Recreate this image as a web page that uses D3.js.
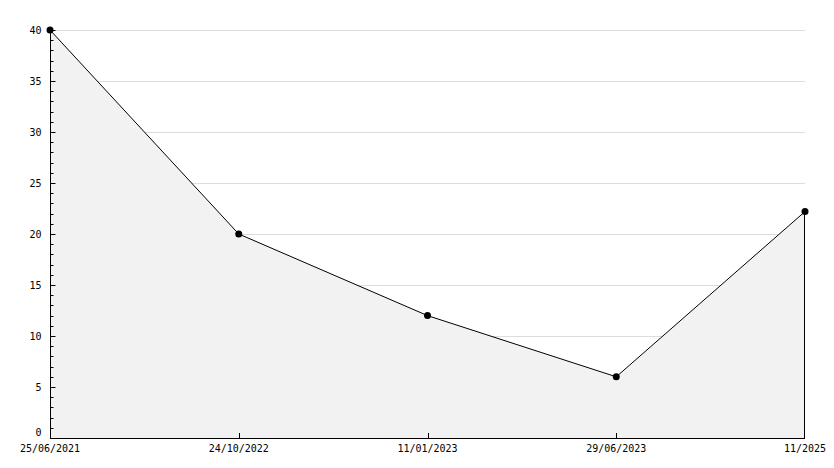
<!doctype html>
<html lang="en">
<head>
<meta charset="utf-8" />
<title>Chart</title>
<script src="https://d3js.org/d3.v7.min.js"></script>
<style>
  body { margin: 0; background: #fff; }
  text { font-family: "DejaVu Sans Mono", monospace; font-size: 10px; fill: #000; }
</style>
</head>
<body>
<div id="chart"></div>
<script>
    // data
    var dates = ["25/06/2021", "24/10/2022", "11/01/2023", "29/06/2023", "11/2025"];
    var values = [40, 20, 12, 6, 22.2];
    var yTicks = [0, 5, 10, 15, 20, 25, 30, 35, 40];

    var width = 834,
        height = 468,
        margin = { top: 30, right: 29, bottom: 30, left: 50 };

    var svg = d3.select("#chart")
        .append("svg")
        .attr("width", width)
        .attr("height", height);

    var innerW = width - margin.left - margin.right,
        innerH = height - margin.top - margin.bottom;

    var g = svg.append("g")
        .attr("transform", `translate(${margin.left},${margin.top})`);

    var x = d3.scalePoint().domain(dates).range([0, innerW]);
    var y = d3.scaleLinear().domain([0, 40]).range([innerH, 0]);

    var points = dates.map((d, i) => ({ date: d, value: values[i] }));

    // grid lines
    g.selectAll(".grid")
        .data(yTicks.filter(t => t > 0))
        .enter().append("line")
        .attr("x1", 0).attr("x2", innerW)
        .attr("y1", d => Math.round(y(d)) + 0.5)
        .attr("y2", d => Math.round(y(d)) + 0.5)
        .attr("stroke", "#dcdcdc");

    // area under the line
    var area = d3.area()
        .x(d => x(d.date))
        .y0(innerH)
        .y1(d => y(d.value));

    g.append("path")
        .datum(points)
        .attr("d", area)
        .attr("fill", "#f2f2f2")
        .attr("stroke", "none");

    // right edge of the area
    g.append("line")
        .attr("x1", x(dates[dates.length - 1]) - 0.5)
        .attr("x2", x(dates[dates.length - 1]) - 0.5)
        .attr("y1", y(values[values.length - 1]))
        .attr("y2", innerH)
        .attr("stroke", "#000");

    // the line
    g.append("path")
        .datum(points)
        .attr("d", d3.line().x(d => x(d.date)).y(d => y(d.value)))
        .attr("fill", "none")
        .attr("stroke", "#000")
        .attr("stroke-width", 1);

    // y axis, minor ticks every 1
    var yAxisG = g.append("g").attr("transform", "translate(0.5,0)");
    yAxisG.append("line")
        .attr("x1", 0).attr("x2", 0)
        .attr("y1", 0).attr("y2", innerH)
        .attr("stroke", "#000");
    yAxisG.selectAll(".minor")
        .data(d3.range(0, 41))
        .enter().append("line")
        .attr("x1", 0)
        .attr("x2", d => d % 5 === 0 ? 5 : 3)
        .attr("y1", d => Math.round(y(d)) + 0.5)
        .attr("y2", d => Math.round(y(d)) + 0.5)
        .attr("stroke", "#000");
    yAxisG.selectAll(".ylab")
        .data(yTicks)
        .enter().append("text")
        .attr("x", -9)
        .attr("y", d => y(d) + (d === 0 ? -6 : 0))
        .attr("dy", "0.35em")
        .attr("text-anchor", "end")
        .text(d => d);

    // x axis
    var xAxisG = g.append("g").attr("transform", `translate(0,${innerH})`);
    xAxisG.append("line")
        .attr("x1", 0).attr("x2", innerW)
        .attr("y1", 0.5).attr("y2", 0.5)
        .attr("stroke", "#000");
    xAxisG.selectAll(".xt")
        .data(dates.slice(1, -1))
        .enter().append("line")
        .attr("x1", d => Math.round(x(d)) + 0.5)
        .attr("x2", d => Math.round(x(d)) + 0.5)
        .attr("y1", 0).attr("y2", -5)
        .attr("stroke", "#000");
    xAxisG.selectAll(".xlab")
        .data(dates)
        .enter().append("text")
        .attr("x", d => x(d))
        .attr("y", 14)
        .attr("text-anchor", "middle")
        .text(d => d);

    // markers
    g.selectAll(".pt")
        .data(points)
        .enter().append("circle")
        .attr("cx", d => x(d.date))
        .attr("cy", d => y(d.value))
        .attr("r", 3.5)
        .attr("fill", "#000");
</script>
</body>
</html>
